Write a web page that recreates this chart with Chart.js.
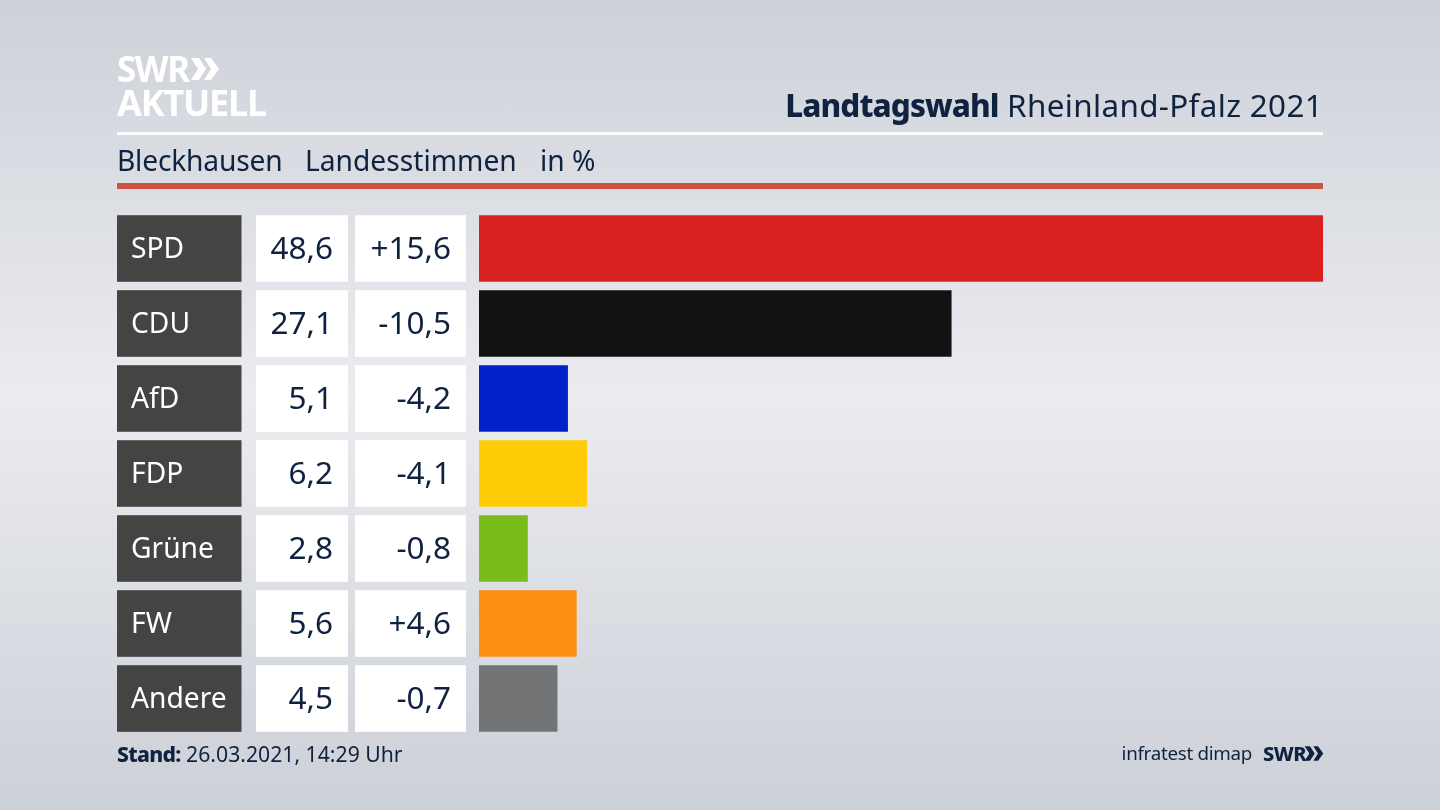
<!DOCTYPE html>
<html lang="de">
<head>
<meta charset="utf-8">
<title>Landtagswahl Rheinland-Pfalz 2021</title>
<script src="https://cdn.jsdelivr.net/npm/chart.js@4"></script>
<style>
  html, body { margin: 0; padding: 0; }
  body {
    width: 1440px; height: 810px; overflow: hidden; position: relative;
    font-family: "Noto Sans", sans-serif; color: #0f2240;
    background: linear-gradient(180deg, #cdd1d8 0%, #ebecf0 49%, #ccd0d7 100%);
  }
  #chart { position: absolute; left: 0; top: 0; }
  .abs { position: absolute; white-space: nowrap; }
  .rule { position: absolute; left: 117px; width: 1206px; }
  #logo1, #logo2 { color: #fff; font-weight: 700; left: 117px; }
  #logo1 { top: 47px; font-size: 35px; line-height: 44px; letter-spacing: -1.5px; }
  #logo2 { top: 81px; font-size: 36px; line-height: 44px; letter-spacing: -1.2px; }
  #title { right: 117px; top: 85px; font-size: 31.4px; line-height: 40px; letter-spacing: 0.35px; }
  #title b { font-weight: 800; letter-spacing: -0.9px; }
  .sub { top: 142px; font-size: 28.2px; line-height: 36px; }
  #stand { left: 117px; top: 740px; font-size: 21.2px; line-height: 28px; }
  #stand b { font-weight: 800; letter-spacing: -0.7px; }
  #infra { right: 188px; top: 740px; font-size: 18.8px; line-height: 27px; letter-spacing: -0.3px; }
  #swr2 { left: 1263px; top: 740px; font-size: 20px; line-height: 27px; font-weight: 800; letter-spacing: -0.5px; }
</style>
</head>
<body>
<canvas id="chart" width="1440" height="810"></canvas>

<div class="abs" id="logo1">SWR</div>
<svg class="abs" style="left:190px;top:57px" width="30" height="24" viewBox="0 0 30 24">
  <path d="M1 1 L9 1 L16 12 L9 23 L1 23 L8 12 Z M14 1 L21 1 L29 12 L21 23 L14 23 L21 12 Z" fill="#fff"/>
</svg>
<div class="abs" id="logo2">AKTUELL</div>
<div class="abs" id="title"><b>Landtagswahl</b> Rheinland-Pfalz 2021</div>
<div class="rule" style="top:132px;height:3px;background:#fff"></div>
<div class="abs sub" style="left:117px;letter-spacing:-0.2px">Bleckhausen</div>
<div class="abs sub" style="left:305px">Landesstimmen</div>
<div class="abs sub" style="left:540px">in %</div>
<div class="rule" style="top:183px;height:6px;background:#cb5340"></div>
<div class="abs" id="stand"><b>Stand:</b> 26.03.2021, 14:29 Uhr</div>
<div class="abs" id="infra">infratest dimap</div>
<div class="abs" id="swr2">SWR</div>
<svg class="abs" style="left:1304px;top:745px" width="20" height="17" viewBox="0 0 30 24">
  <path d="M1 1 L9 1 L16 12 L9 23 L1 23 L8 12 Z M14 1 L21 1 L29 12 L21 23 L14 23 L21 12 Z" fill="#0f2240"/>
</svg>

<script>
const parties = ['SPD', 'CDU', 'AfD', 'FDP', 'Grüne', 'FW', 'Andere'];
const shares = [48.6, 27.1, 5.1, 6.2, 2.8, 5.6, 4.5];
const changes = ['+15,6', '-10,5', '-4,2', '-4,1', '-0,8', '+4,6', '-0,7'];
const barColors = ['#d7201f', '#121212', '#0022c8', '#ffcd07', '#79bd1a', '#ff8e14', '#737476'];

const barHeight = 66.6;

// name box and the two white number boxes left of every bar
const tableCells = {
  id: 'tableCells',
  afterDatasetsDraw(chart) {
    const { ctx, scales } = chart;
    ctx.save();
    ctx.textBaseline = 'middle';
    parties.forEach((name, i) => {
      const y = scales.y.getPixelForValue(i);
      const top = y - barHeight / 2;

      ctx.fillStyle = '#444442';
      ctx.fillRect(117, top, 124.5, barHeight);
      ctx.fillStyle = '#ffffff';
      ctx.fillRect(256, top, 92, barHeight);
      ctx.fillRect(355, top, 111, barHeight);

      ctx.textAlign = 'left';
      ctx.font = '28.2px "Noto Sans", sans-serif';
      ctx.fillText(name, 131, y + 1.5);

      ctx.fillStyle = '#0f2240';
      ctx.textAlign = 'right';
      ctx.font = '31.5px "Noto Sans", sans-serif';
      ctx.fillText(shares[i].toFixed(1).replace('.', ','), 333, y + 1.5);
      ctx.fillText(changes[i], 451, y + 1.5);
    });
    ctx.restore();
  }
};

new Chart(document.getElementById('chart'), {
  type: 'bar',
  data: {
    labels: parties,
    datasets: [{
      data: shares,
      backgroundColor: barColors,
      borderWidth: 0,
      barPercentage: barHeight / 75,
      categoryPercentage: 1
    }]
  },
  options: {
    indexAxis: 'y',
    responsive: false,
    animation: false,
    layout: { padding: { left: 479, right: 117, top: 211, bottom: 74 } },
    plugins: { legend: { display: false }, tooltip: { enabled: false } },
    scales: {
      x: { display: false, min: 0, max: 48.4 },
      y: { display: false }
    }
  },
  plugins: [tableCells]
});
</script>
</body>
</html>
